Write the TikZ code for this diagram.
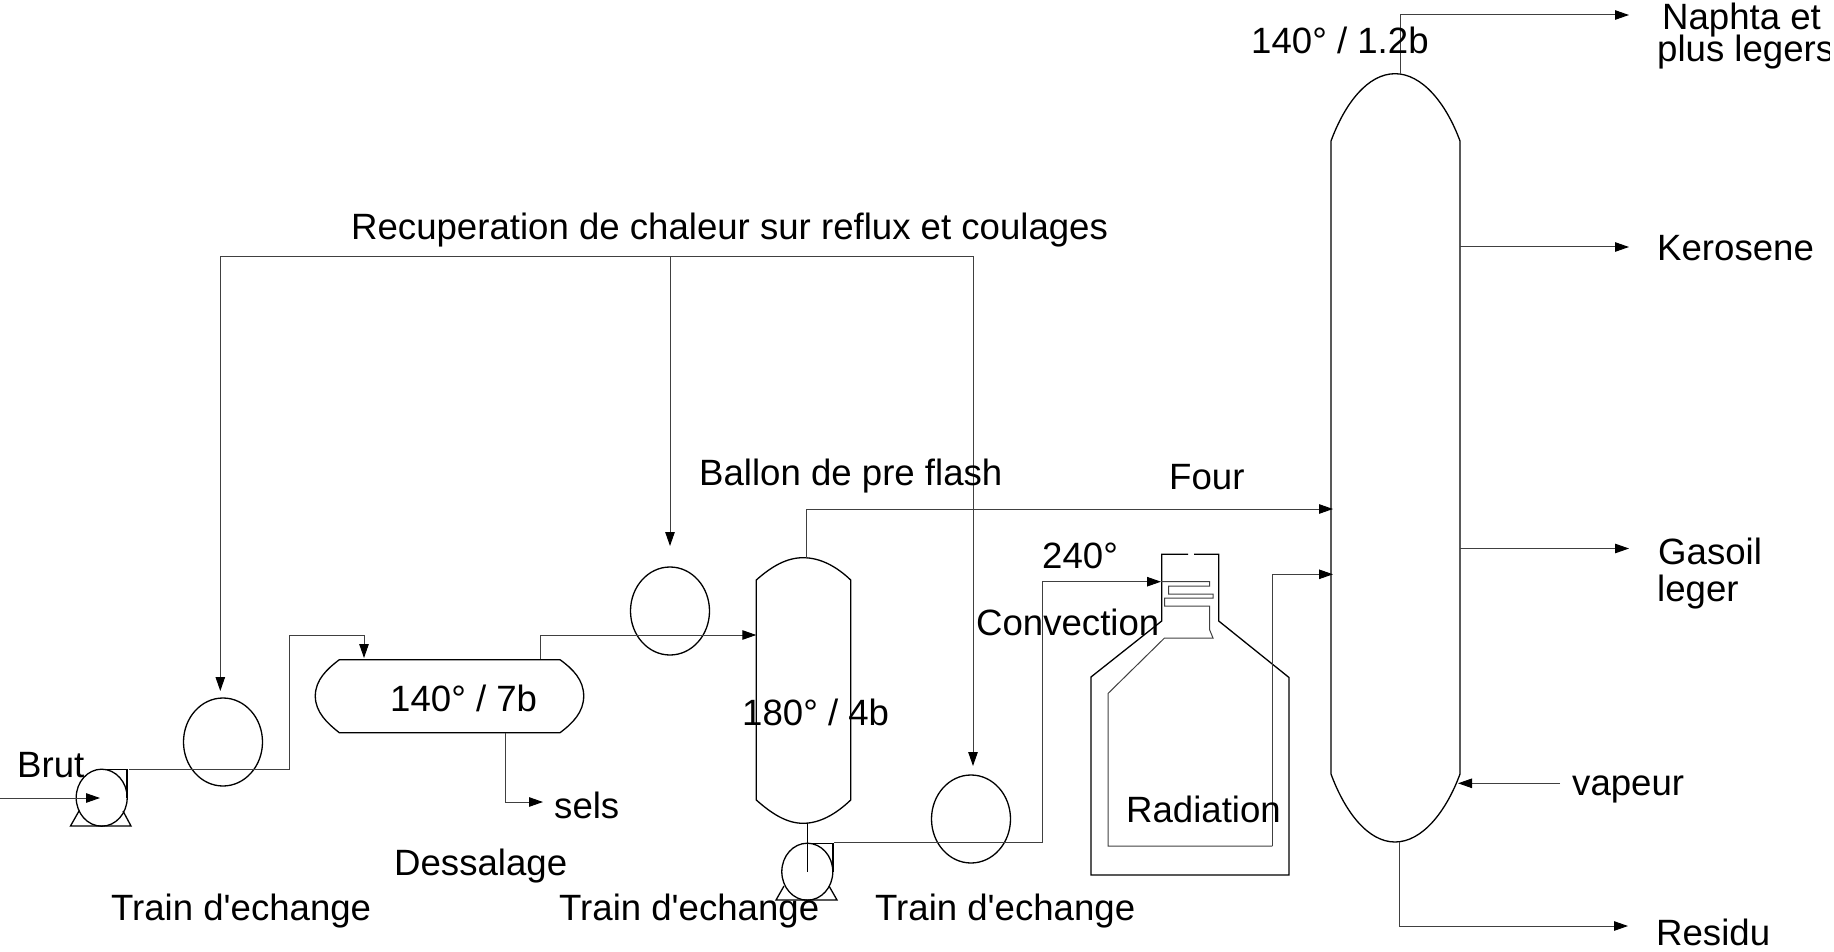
\documentclass[tikz,border=0pt]{standalone}
\usepackage{fontspec}
\newfontfamily\lblfont{Liberation Sans}
\usetikzlibrary{arrows.meta,shapes.geometric}
\tikzset{
  x=1pt,y=-1pt,
  vessel/.style={draw=black,line width=1.3pt,line join=miter},
  pipe/.style={draw=black!75,line width=1pt},
  flow/.style={pipe,-{Triangle[length=14pt,width=9.5pt,black]}},
  exch/.style={ellipse,draw=black,line width=1.3pt,minimum width=79pt,minimum height=88pt,inner sep=0pt},
  pump/.style={ellipse,draw=black,line width=1.3pt,minimum width=51pt,minimum height=57pt,inner sep=0pt},
  lbl/.style={anchor=base west,inner sep=0pt,font=\lblfont\fontsize{36.6pt}{36.6pt}\selectfont}
}
\begin{document}
\begin{tikzpicture}
\useasboundingbox (0,0) rectangle (1834,952);
\clip (0,0) rectangle (1829,952);

% exchangers and pumps
\node[exch] (e1) at (223,742) {};
\node[exch] (e2) at (670,611) {};
\node[exch] (e3) at (971,819) {};
\node[pump] (p1) at (101.7,797.7) {};
\node[pump] (p2) at (807.3,871.7) {};

% pump bases
\draw[vessel] (79,811) -- (70.5,826) -- (131,826) -- (123,811);
\draw[vessel] (784,886) -- (776,900) -- (837,900) -- (829,886);
\draw[vessel] (101.7,769.3) -| (127,797.7);
\draw[vessel] (807.3,843.3) -| (833,871.7);

% desalter
\draw[vessel] (339.3,659.7) -- (560,659.7)
  .. controls (573,669) and (583.7,680) .. (583.7,696)
  .. controls (583.7,712) and (573,723) .. (560,732.7)
  -- (339.3,732.7)
  .. controls (327,723) and (315.3,712) .. (315.3,696)
  .. controls (315.3,680) and (327,669) .. (339.3,659.7) -- cycle;

% flash drum
\draw[vessel] (756.3,580) .. controls (772,566) and (787,557.7) .. (803,557.7)
  .. controls (820,557.7) and (836,566) .. (850.7,580)
  -- (850.7,800) .. controls (836,814) and (820,823.3) .. (803,823.3)
  .. controls (787,823.3) and (772,814) .. (756.3,800) -- cycle;

% main column
\draw[vessel] (1331,141) .. controls (1345,103) and (1368,73.7) .. (1395,73.7)
  .. controls (1422,73.7) and (1446,103) .. (1460,141)
  -- (1460,774) .. controls (1446,812) and (1422,842) .. (1395,842)
  .. controls (1368,842) and (1345,812) .. (1331,774) -- cycle;

% furnace
\draw[vessel] (1188,554.3) -- (1161.7,554.3) -- (1161.7,621) -- (1091,677) -- (1091,875)
  -- (1289,875) -- (1289,677.5) -- (1218.7,621) -- (1218.7,554.3) -- (1194,554.3);

% named points
\coordinate (brutin) at (0,798);
\coordinate (brutend) at (100,798);
\coordinate (p1out) at (129,769);
\coordinate (r1) at (289.5,769);
\coordinate (r2) at (289.5,635);
\coordinate (dtopin) at (364,658);
\coordinate (hdrL) at (220.3,256);
\coordinate (hdrM) at (670,256);
\coordinate (hdrR) at (973,256);
\coordinate (e1in) at (220.3,691);
\coordinate (e2in) at (670,546);
\coordinate (e3in) at (973,766);
\coordinate (dout) at (540.7,659);
\coordinate (flashin) at (756.3,635);
\coordinate (dbot) at (505,732.7);
\coordinate (selsend) at (543,802);
\coordinate (flashtop) at (806,557.7);
\coordinate (coltop1) at (1333,509);
\coordinate (flashbot) at (807.3,823);
\coordinate (p2mid) at (807.3,872.3);
\coordinate (p2out) at (834,842);
\coordinate (cv) at (1042,842);
\coordinate (cvtop) at (1042,581.7);
\coordinate (fin) at (1161,581.7);
\coordinate (fout) at (1272.3,846);
\coordinate (coltop2) at (1333,574.3);
\coordinate (ctop) at (1400,73.7);
\coordinate (naphta) at (1629,15);
\coordinate (kerL) at (1460,247);
\coordinate (kerR) at (1629,247);
\coordinate (gasL) at (1460,548.5);
\coordinate (gasR) at (1629,548.5);
\coordinate (vapL) at (1560,783.3);
\coordinate (vapR) at (1458,783.3);
\coordinate (cbot) at (1399,842);
\coordinate (res) at (1628,926);

% connectors
\draw[flow] (brutin) -- (brutend);
\draw[pipe] (p1out) -- (r1) -- (r2);
\draw[flow] (r2) -| (dtopin);
\draw[pipe] (hdrL) -- (hdrR);
\draw[flow] (hdrL) -- (e1in);
\draw[flow] (hdrM) -- (e2in);
\draw[flow] (hdrR) -- (e3in);
\draw[flow] (dout) |- (flashin);
\draw[flow] (dbot) |- (selsend);
\draw[flow] (flashtop) |- (coltop1);
\draw[vessel] (flashbot) -- (p2mid);
\draw[pipe] (p2out) -- (cv) -- (cvtop);
\draw[flow] (cvtop) -- (fin);

% convection coil and radiation tube
\draw[pipe] (fin) -- (1209.7,581.7) -- (1209.7,586) -- (1168.5,586) -- (1168.5,594) -- (1213,594)
  -- (1213,598) -- (1164.5,598) -- (1164.5,606) -- (1209.7,606) -- (1209.7,630) -- (1213,638)
  -- (1164.5,638) -- (1108,693.5) -- (1108,846) -- (fout);
\draw[flow] (fout) |- (coltop2);

\draw[flow] (ctop) |- (naphta);
\draw[flow] (kerL) -- (kerR);
\draw[flow] (gasL) -- (gasR);
\draw[flow] (vapL) -- (vapR);
\draw[flow] (cbot) |- (res);

% labels
\node[lbl] (t1) at (17,777) {Brut};
\node[lbl] (t2) at (111,920) {Train d'echange};
\node[lbl] (t3) at (559,920) {Train d'echange};
\node[lbl] (t4) at (875,920) {Train d'echange};
\node[lbl] (t5) at (351,240) {Recuperation de chaleur sur reflux et coulages};
\node[lbl] (t6) at (699,485) {Ballon de pre flash};
\node[lbl] (t7) at (1169,489) {Four};
\node[lbl] (t8) at (1042,568) {240°};
\node[lbl] (t9) at (976,635) {Convection};
\node[lbl] (t10) at (1126,822) {Radiation};
\node[lbl] (t11) at (390,711) {140° / 7b};
\node[lbl] (t12) at (742,725) {180° / 4b};
\node[lbl] (t13) at (554,818) {sels};
\node[lbl] (t14) at (394,875) {Dessalage};
\node[lbl] (t15) at (1251,54) {140° / 1.2b};
\node[lbl] (t16) at (1662,30) {Naphta et};
\node[lbl] (t17) at (1657,62) {plus legers};
\node[lbl] (t18) at (1657,261) {Kerosene};
\node[lbl] (t19) at (1658,564) {Gasoil};
\node[lbl] (t20) at (1657,601) {leger};
\node[lbl] (t21) at (1572,795) {vapeur};
\node[lbl] (t22) at (1656,945) {Residu};
\end{tikzpicture}
\end{document}
